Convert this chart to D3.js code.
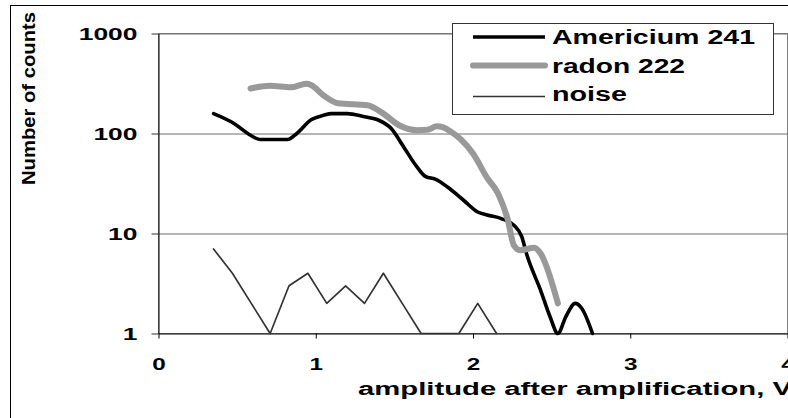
<!DOCTYPE html>
<html>
<head>
<meta charset="utf-8">
<script src="https://cdn.jsdelivr.net/npm/d3@7"></script>
<style>
  html, body { margin: 0; padding: 0; background: #fff; }
  svg { display: block; }
  text { font-family: "Liberation Sans", Arial, Helvetica, sans-serif; font-weight: bold; fill: #000; }
</style>
</head>
<body>
<svg id="chart" width="788" height="418"></svg>
<script>
// Axis ticks
const xTickValues = [0, 1, 2, 3, 4];
const yTickValues = [1, 10, 100, 1000];

// Americium 241 pulse-height spectrum (amplitude in V, counts)
const americiumX = [0.35, 0.48, 0.585, 0.65, 0.75, 0.82, 0.88, 0.97, 1.05, 1.10, 1.20, 1.31, 1.39, 1.48, 1.56, 1.645, 1.70, 1.76, 1.84, 1.94, 2.03, 2.09, 2.18, 2.26, 2.31, 2.34, 2.43, 2.49, 2.54, 2.59, 2.65, 2.69, 2.76];
const americiumY = [158, 126, 96, 87, 87, 87, 100, 137, 152, 158, 158, 147, 138, 112, 73, 46, 37, 35, 29, 21.5, 16.4, 15.3, 14.1, 12.1, 9.3, 6.3, 2.7, 1.47, 1.0, 1.47, 2.0, 1.8, 1.0];

// Radon 222 spectrum
const radonX = [0.585, 0.71, 0.84, 0.94, 0.97, 1.05, 1.14, 1.33, 1.43, 1.53, 1.645, 1.71, 1.77, 1.81, 1.86, 1.92, 2.0, 2.09, 2.16, 2.22, 2.26, 2.30, 2.39, 2.43, 2.54];
const radonY = [282, 300, 290, 314, 305, 240, 201, 192, 158, 121, 108, 109, 118, 115, 104, 88, 63, 36, 25, 14, 7.6, 6.8, 7.2, 6.3, 2.0];

// Background noise
const noiseX = [0.35, 0.47, 0.59, 0.71, 0.83, 0.95, 1.07, 1.19, 1.31, 1.43, 1.55, 1.67, 1.79, 1.91, 2.03, 2.15];
const noiseY = [7, 4, 2, 1, 3, 4, 2, 3, 2, 4, 2, 1, 1, 1, 2, 1];

// Legend entries
const seriesNames = ["Americium 241", "radon 222", "noise"];

const svg = d3.select("#chart");

const plot = { left: 158.5, right: 787.5, top: 33.5, bottom: 333.5 };
const x = d3.scaleLinear().domain([0, 4]).range([plot.left, plot.right]);
const y = d3.scaleLog().domain([1, 1000]).range([plot.bottom, plot.top]);

// outer chart frame
svg.append("rect")
  .attr("x", 10.5).attr("y", 5.5)
  .attr("width", 820).attr("height", 440)
  .attr("fill", "#fff").attr("stroke", "#000").attr("stroke-width", 1);

// plot area border
svg.append("rect")
  .attr("x", plot.left).attr("y", plot.top)
  .attr("width", plot.right - plot.left).attr("height", plot.bottom - plot.top)
  .attr("fill", "#fff").attr("stroke", "#808080").attr("stroke-width", 1);

// horizontal gridlines
svg.append("g")
  .attr("transform", `translate(${plot.left},0)`)
  .call(d3.axisLeft(y).tickValues(yTickValues.filter(v => v > 1))
    .tickSize(-(plot.right - plot.left)).tickFormat(""))
  .call(g => g.select(".domain").remove())
  .call(g => g.selectAll(".tick line").attr("stroke", "#6e6e6e"));

// y axis
const digitWidth = 14.7;
svg.append("g")
  .attr("transform", `translate(${plot.left},0)`)
  .call(d3.axisLeft(y).tickValues(yTickValues).tickFormat(d3.format("d"))
    .tickSize(7).tickSizeOuter(0).tickPadding(14))
  .call(g => g.select(".domain").attr("stroke", "#000"))
  .call(g => g.selectAll(".tick line").attr("stroke", "#333"))
  .call(g => g.selectAll(".tick text")
    .attr("font-size", 17)
    .attr("font-family", null)
    .attr("dy", "0.36em")
    .attr("textLength", d => String(d).length * digitWidth)
    .attr("lengthAdjust", "spacingAndGlyphs"));

// x axis
svg.append("g")
  .attr("transform", `translate(0,${plot.bottom})`)
  .call(d3.axisBottom(x).tickValues(xTickValues).tickFormat(d3.format("d"))
    .tickSize(5).tickSizeOuter(0).tickPadding(19))
  .call(g => g.select(".domain").attr("stroke", "#000"))
  .call(g => g.selectAll(".tick line").attr("stroke", "#000"))
  .call(g => g.selectAll(".tick text")
    .attr("font-size", 17)
    .attr("font-family", null)
    .attr("textLength", d => String(d).length * 13.5)
    .attr("lengthAdjust", "spacingAndGlyphs"));

// axis titles
svg.append("text")
  .attr("x", 358).attr("y", 395)
  .attr("font-size", 18)
  .attr("textLength", 434).attr("lengthAdjust", "spacingAndGlyphs")
  .text("amplitude after amplification, V");

svg.append("text")
  .attr("transform", "translate(35,98.5) rotate(-90)")
  .attr("text-anchor", "middle")
  .attr("font-size", 18)
  .attr("textLength", 173).attr("lengthAdjust", "spacingAndGlyphs")
  .text("Number of counts");

// series
const seriesStyle = [
  { xs: americiumX, ys: americiumY, color: "#000", width: 3.6, smooth: true },
  { xs: radonX, ys: radonY, color: "#999999", width: 6, smooth: true },
  { xs: noiseX, ys: noiseY, color: "#333", width: 1.7, smooth: false }
];

seriesStyle.forEach(s => {
  const pts = s.xs.map((v, i) => [v, s.ys[i]]);
  const line = d3.line()
    .x(d => x(d[0]))
    .y(d => y(d[1]))
    .curve(s.smooth ? d3.curveMonotoneX : d3.curveLinear);
  svg.append("path")
    .datum(pts)
    .attr("d", line)
    .attr("fill", "none")
    .attr("stroke", s.color)
    .attr("stroke-width", s.width)
    .attr("stroke-linejoin", "round")
    .attr("stroke-linecap", "round");
});

// legend
const legend = svg.append("g");
legend.append("rect")
  .attr("x", 452.5).attr("y", 23.5)
  .attr("width", 321).attr("height", 91)
  .attr("fill", "#fff").attr("stroke", "#333").attr("stroke-width", 1);

const legendRowsY = [37, 65.5, 96.5];
const legendTextWidths = [203, 133, 75];
seriesNames.forEach((name, i) => {
  const s = seriesStyle[i];
  legend.append("line")
    .attr("x1", 473).attr("x2", 545)
    .attr("y1", legendRowsY[i]).attr("y2", legendRowsY[i])
    .attr("stroke", s.color).attr("stroke-width", s.width)
    .attr("stroke-linecap", i === 1 ? "round" : "butt");
  legend.append("text")
    .attr("x", 552).attr("y", legendRowsY[i])
    .attr("dy", i === 2 ? "0.22em" : "0.36em")
    .attr("font-size", 20)
    .attr("textLength", legendTextWidths[i]).attr("lengthAdjust", "spacingAndGlyphs")
    .text(name);
});
</script>
</body>
</html>
